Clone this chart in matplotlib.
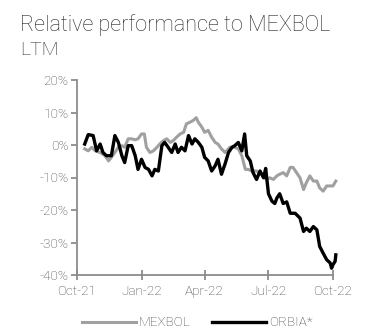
import matplotlib
matplotlib.use("Agg")
import matplotlib.pyplot as plt
import pandas as pd

# days after 2021-10-01 and relative performance (%)
orbia_days = [11, 16, 23, 28, 33, 37, 42, 49, 54, 59, 64, 68, 73, 78, 83, 87, 92, 97,
              102, 107, 111, 116, 121, 125, 130, 135, 140, 144, 149, 154, 159, 164, 168,
              173, 178, 182, 187, 192, 197, 201, 206, 211, 216, 221, 225, 230, 235, 239,
              242, 247, 251, 256, 261, 266, 269, 273, 278, 282, 285, 289, 294, 299, 304,
              311, 318, 323, 327, 332, 337, 342, 346, 351, 356, 361, 363, 365, 368, 369]
orbia = [0.3, 3.2, 2.9, -1.8, 0.3, -2.3, -3.3, -3.3, 2.9, 0.8, -3.3, -5.4, -0.2, -0.2,
         -3.3, -7.5, -4.4, -6.9, -7.5, -9.5, -7.5, -8.0, -0.2, 0.8, -0.7, -2.3, 0.3, -2.3,
         -0.7, -1.8, 2.9, 0.3, 1.9, 0.8, -0.7, -3.8, -4.9, -8.0, -6.4, -4.4, -9.0, -5.9,
         -2.3, -0.7, -0.2, 0.8, -1.8, 3.4, -3.3, -4.9, -8.5, -10.6, -8.0, -10.1, -7.2,
         -15.0, -17.3, -18.0, -16.3, -15.0, -18.0, -17.5, -21.0, -21.0, -22.5, -26.6,
         -25.6, -26.6, -25.1, -26.1, -31.2, -33.3, -35.3, -36.3, -37.9, -36.8, -35.8, -33.8]

mexbol_days = [11, 16, 21, 26, 33, 40, 45, 49, 54, 59, 64, 68, 73, 78, 83, 87, 92, 96,
               99, 104, 109, 114, 118, 123, 128, 133, 137, 142, 147, 152, 156, 161, 166,
               170, 173, 178, 182, 187, 192, 197, 201, 206, 211, 218, 225, 230, 235, 240,
               244, 249, 256, 263, 270, 275, 280, 285, 289, 294, 299, 304, 308, 313, 318,
               323, 327, 332, 337, 342, 346, 351, 356, 361, 365, 369]
mexbol = [-1.2, -1.8, -0.7, -1.8, -2.3, -3.3, -4.9, -3.8, -2.3, -0.7, -0.2, -0.7, 1.9,
          1.9, 1.6, 1.9, 3.4, 3.4, -0.7, -2.3, -1.8, -0.7, 0.3, 1.3, 1.9, 0.8, 1.3, 2.4,
          3.4, 3.9, 6.5, 7.0, 7.6, 8.4, 7.0, 5.5, 3.9, 4.5, 2.4, 0.8, 0.3, -1.2, -2.3,
          -0.7, -0.7, -1.2, -3.3, -7.5, -7.5, -8.0, -8.0, -9.0, -10.6, -10.1, -10.6, -9.5,
          -9.0, -8.5, -9.5, -6.9, -6.9, -8.5, -10.1, -13.7, -11.6, -9.5, -11.1, -11.1,
          -13.2, -14.2, -12.6, -12.6, -12.6, -11.1]

start = pd.Timestamp("2021-10-01")
tick_dates = ["2021-10-01", "2022-01-01", "2022-04-01", "2022-07-01", "2022-10-01"]
tick_labels = ["Oct-21", "Jan-22", "Apr-22", "Jul-22", "Oct-22"]
y_ticks = [20, 10, 0, -10, -20, -30, -40]

plt.rcParams["font.family"] = ["Roboto", "DejaVu Sans"]
plt.rcParams["font.weight"] = "light"

fig = plt.figure(figsize=(3.69, 3.35), dpi=100)
ax = fig.add_axes([77 / 369, 1 - 275 / 335, 256 / 369, 195 / 335])

d_mex = start + pd.to_timedelta(mexbol_days, unit="D")
d_orb = start + pd.to_timedelta(orbia_days, unit="D")
ax.plot(d_mex, mexbol, color="#a0a0a0", lw=2.2, label="MEXBOL", clip_on=False)
ax.plot(d_orb, orbia, color="black", lw=2.4, label="ORBIA*", clip_on=False)

ax.set_xlim(pd.Timestamp(tick_dates[0]), pd.Timestamp(tick_dates[-1]))
ax.set_ylim(-40, 20)
ax.set_yticks(y_ticks)
ax.set_yticklabels([f"{v}%" for v in y_ticks])
ax.set_xticks([pd.Timestamp(d) for d in tick_dates])
ax.set_xticklabels(tick_labels)

for s in ["top", "right"]:
    ax.spines[s].set_visible(False)
for s in ["left", "bottom"]:
    ax.spines[s].set_color("#8c8c8c")
    ax.spines[s].set_linewidth(1.3)
ax.tick_params(axis="y", direction="out", length=4, width=1.3, color="#8c8c8c",
               labelsize=9.7, labelcolor="#404040", pad=2)
ax.tick_params(axis="x", direction="inout", length=7, width=1.3, color="#8c8c8c",
               labelsize=9.7, labelcolor="#404040", pad=4)

fig.text(20 / 369, 1 - 31 / 335, "Relative performance to MEXBOL", fontsize=15.6,
         color="#262626")
fig.text(20 / 369, 1 - 55 / 335, "LTM", fontsize=14, color="#262626")

fig.legend(loc="center", bbox_to_anchor=(0.535, 1 - 323 / 335), ncol=2, frameon=False,
           fontsize=9.7, handlelength=4.0, columnspacing=1.6, handletextpad=0.2,
           labelcolor="#404040")

fig.savefig("out.png", dpi=100)
